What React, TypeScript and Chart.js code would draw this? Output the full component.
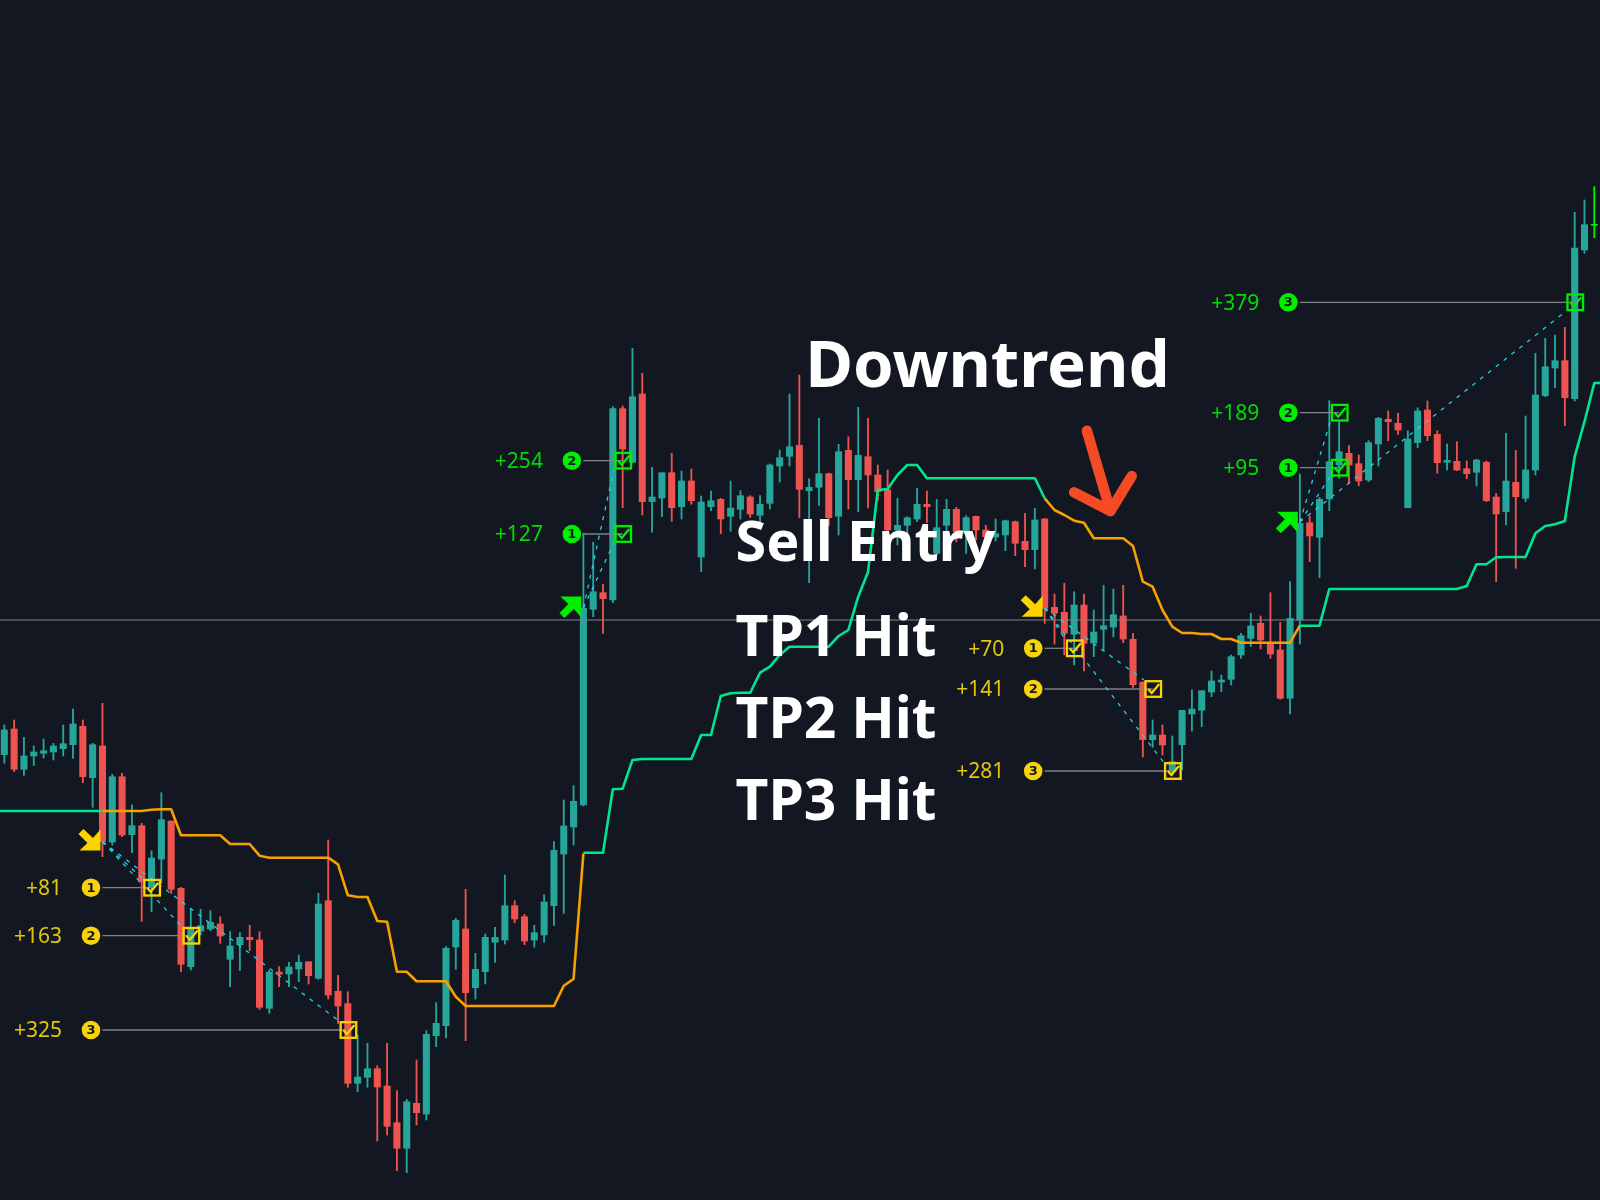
import { useEffect, useRef } from "react";
import { Chart, registerables } from "chart.js";

Chart.register(...registerables);

// price candles
const opens = [445.3,471,430.7,444,446.7,448,451.3,455.3,473.7,422.3,454,358,423.3,365.3,374.3,313,341,379,311.7,233.3,269,271,276,240.7,255.3,262.7,260,191.7,228,226,231,238.3,221.7,299.3,208.7,196.3,116.7,122.7,131.3,114,77.3,51.7,96.7,86,164.3,174.3,253,271,212.3,228.3,257.7,260,294.3,283.3,260,265,294.3,346,373,395,590.7,607.3,600,791.3,737.7,806,698.3,702,727.3,693.3,719,643,693.3,700.7,683.7,690.7,703,684.7,696.7,734,743.7,754.7,709.3,712.7,726.3,683.7,749.7,720.3,743.3,725,710,670,674.7,681,695.7,646.7,674.7,690.7,666.7,683.7,670,663,665,678.3,658.7,650.3,681,592.7,587.7,565.7,595,557,570.7,573,584,560.7,517.7,460.3,465,429,455.3,486,489.7,508,518,520.7,545,561.7,576.7,557,550,501.7,580,677.3,662.7,701,735,746.7,736.3,720,756,780.7,776.7,692.3,757.3,790,765.7,737.7,738.7,731.3,727.7,737.7,703,688.3,717.7,701.7,730,804.3,832,839.3,801.3,950,974.7];
const closes = [470,430.7,444,448,449.3,454,456.3,476,423.3,455.3,358.3,423.3,365,374.3,318,342,380.3,310.7,235.7,271.7,274.3,277.7,264,254,262.7,260.3,192.7,228,225.7,233,237.7,224.3,296,205,194,116.7,123,131.3,113,73.7,51.7,98.3,87.3,165.7,176.7,251.7,279.7,207.3,230.7,262.7,262.7,294.3,281,259,267.3,298,349.7,374,398.7,591.7,608.3,601.3,791.3,751,803.3,698.3,703,727.3,692.3,719,699.3,698,699.3,681,692,704.3,686,695.7,735,742.3,753.3,710.7,712.7,726.3,682.3,748.3,720.3,744.7,725,708.3,670,674.7,682.3,695.7,693.3,672.3,690.7,668.3,682.3,670,663.3,666.3,679.3,656.7,650.3,680,591.7,586.7,567,595,556.7,568,574.3,585.3,561,515.3,460.3,465,455,438.3,489.7,491,509.3,519,520,543.3,564.3,574,560,546,501.7,581.7,676.7,664,700.7,738.3,748.3,735,719,757.3,781.7,778.3,770,761,789,764.3,737.3,739.7,730,726.3,740,699.3,686,719,703.3,730,805,833.3,839.3,802.3,952,975.3,975.7];
const highs = [475,480,462.7,454,461,456.7,475,491,480,456.7,496.7,425.7,426.7,395,376.7,349.3,407.3,379,312.7,291.7,290.7,289.3,283.3,268.3,267.3,274.7,268.3,230,233.3,237.7,245,238.3,306.7,360,224.7,208.3,165,156.7,134.3,156.7,109.3,100.7,140,169.3,197.3,253.3,281.7,310.7,246.7,266,272.7,325,299.3,285.7,274.7,305.3,358.3,400,414.3,667,657.7,615.7,793.3,794,851.7,826.7,732.7,727.3,746.7,729,731,704,709,701.7,719,709.3,704.3,704.3,736,750,806,825,721.3,781.7,727,755.7,763.3,792.7,781.7,735,730,701.7,683.3,711.7,709,700.7,700.7,692.7,684.3,684,674.7,681,680,679,686.7,691.7,681.7,606,616.7,608.3,606,590,614.7,611,614.7,566.7,518.3,480,475,464,489.7,510,509.3,529,525,545,566.7,586.7,584,607.3,577.7,618.3,726,684,702.7,799.3,778.3,754.3,745,759.3,782.7,789,786.7,769.3,792.3,799,769.3,756,758.3,739,740.7,739,706.7,766.7,749.7,784,846.7,861.7,865,872.7,987.7,1000,1013.3];
const lows = [436.7,428.3,424.7,434.3,442,440,444,441.7,417.3,392.7,343.3,355,363.3,347.3,278.7,288.3,316.7,306.7,228.3,230,265,269.3,256.7,213.3,229.3,249.3,190.7,186.7,213.3,213.3,218.3,216,220.7,201,176.7,112.7,108.3,112.7,59,65,29.3,27.3,75,80,153.3,162,230.7,159.3,201,216,237.7,256,277.3,255.3,252.7,257.7,274.7,286.7,355,394,583.3,566.7,597.3,692.3,737,685,667.7,683.3,678.7,681,695.7,628.3,689.3,666.3,668.7,681,682.7,678,691,718,734,682.3,617.3,694.7,674.3,665,691,688.3,692,700,665,655,660,678.3,677.3,645,666.7,658,646.7,660,658.3,659,649.3,644.3,633.3,631,576.7,556,545,535,529,543.3,549.7,563,557.3,512.7,443,452.7,445,425,430,469,473.3,503.3,508.3,515,541.7,553.3,551,541.7,500.7,486,556,638.3,622.3,689.3,721.7,716.7,714.3,718.3,734,759.3,765.7,692.3,752.3,759.3,726.7,730,729.3,721.3,714,698.3,618.3,675,631.7,698.3,725,803.3,812.3,774.3,799,946.7,962.3];

// trailing stop indicator, one value per candle, ten to a row
const upTrail = [
  389,389,389,389,389,389,389,389,389,389,
  389,null,null,null,null,null,null,null,null,null,
  null,null,null,null,null,null,null,null,null,null,
  null,null,null,null,null,null,null,null,null,null,
  null,null,null,null,null,null,null,null,null,null,
  null,null,null,null,null,null,null,null,null,347.3,
  347.3,347.3,410.7,411.3,440,441,441,441,441,441,
  441,465,465,504,506.7,507.3,507.3,527.3,533.3,545,
  553.3,553.3,553.3,553.3,553.3,564,570,603.3,628,710,
  711,725,735,735,721.7,721.7,721.7,721.7,721.7,721.7,
  721.7,721.7,721.7,721.7,721.7,721.7,701.7,null,null,null,
  null,null,null,null,null,null,null,null,null,null,
  null,null,null,null,null,null,null,null,null,null,
  null,null,574.3,574.3,574.3,611,611,611,611,611,
  611,611,611,611,611,611,611,611,611,614,
  635.7,635.7,642.7,643,643,643,666.7,674,675.7,679,
  743.3,778.3,817,
];
const downTrail = [
  null,null,null,null,null,null,null,null,null,null,
  389,389,389,389,389,390.3,390.7,390.7,364.7,364.7,
  364.7,364.7,364.7,356,356,356,344.3,342.3,342.3,342.3,
  342.3,342.3,342.3,342.3,335.7,304.7,303,303,279,278.3,
  228.3,228.3,218.7,218.7,218.7,218.7,203.3,194,194,194,
  194,194,194,194,194,194,194,214.3,221,346.7,
  null,null,null,null,null,null,null,null,null,null,
  null,null,null,null,null,null,null,null,null,null,
  null,null,null,null,null,null,null,null,null,null,
  null,null,null,null,null,null,null,null,null,null,
  null,null,null,null,null,null,701.7,690,685,679.3,
  677.3,661.7,661.7,661.7,661.7,654,618.3,613.3,590,573.3,
  567,567,566,566,561,561,557.3,557.3,557.3,557.3,
  557.3,557.3,574.3,
];

const lastPrice = 580;

// signals and take-profit levels
const entryBars = [10, 59, 106, 132];
const entryPrices = [358.3, 592, 592, 678];
const arrowPrices = [349.5, 603.5, 583.2, 688.3];
const entrySides = ["sell", "buy", "sell", "buy"];

const targetEntries = [0, 0, 0, 1, 1, 2, 2, 2, 3, 3, 3];
const targetBars = [15, 19, 35, 63, 63, 109, 117, 119, 136, 136, 160];
const targetPrices = [312.3, 264.3, 170, 666, 739.3, 551.7, 511, 429, 732.3, 787.3, 897.7];
const targetNumbers = ["1", "2", "3", "1", "2", "1", "2", "3", "1", "2", "3"];
const targetLabels = ["+81", "+163", "+325", "+127", "+254", "+70", "+141", "+281", "+95", "+189", "+379"];

// callouts
const noteTexts = ["Downtrend", "Sell Entry", "TP1 Hit", "TP2 Hit", "TP3 Hit"];
const noteBars = [81.6, 74.5, 74.5, 74.5, 74.5];
const notePrices = [813, 639, 544, 462, 380];
const noteSizes = [65.3, 55.7, 57, 57, 57];

const arrowShaftBars = [110.3, 112.7];
const arrowShaftPrices = [769.3, 689];
const arrowHeadBars = [109, 112.7, 114.87];
const arrowHeadPrices = [707.7, 689, 724];

const UP = "#26a69a";
const DOWN = "#ef5350";
const LIVE = "#00f000";
const YELLOW = "#f7d308";
const LIME = "#00ee00";

const candleColor = (i: number) =>
  i === opens.length - 1 ? LIVE : closes[i] >= opens[i] ? UP : DOWN;

const trailPoints = (values: (number | null)[]) =>
  values.map((v, i) => ({ x: i, y: v }));

const overlay = {
  id: "overlay",
  beforeDraw(chart: any) {
    const { ctx, width, height } = chart;
    ctx.save();
    ctx.fillStyle = "#121722";
    ctx.fillRect(0, 0, width, height);
    ctx.restore();
  },
  afterDatasetsDraw(chart: any) {
    const { ctx, scales } = chart;
    const px = (v: number) => scales.x.getPixelForValue(v);
    const py = (v: number) => scales.y.getPixelForValue(v);
    ctx.save();

    // boxes, badges and pip labels
    targetBars.forEach((bar, i) => {
      const entry = targetEntries[i];
      const isBuy = entrySides[entry] === "buy";
      const color = isBuy ? LIME : YELLOW;
      const x = px(bar) + 0.6;
      const y = py(targetPrices[i]);
      const ex = px(entryBars[entry]);
      ctx.strokeStyle = color;
      ctx.lineWidth = 2.3;
      ctx.strokeRect(x - 7.8, y - 7.8, 15.6, 15.6);
      ctx.beginPath();
      ctx.moveTo(x - 5, y);
      ctx.lineTo(x - 1.5, y + 4);
      ctx.lineTo(x + 6, y - 5);
      ctx.stroke();

      ctx.fillStyle = color;
      ctx.beginPath();
      ctx.arc(ex - 11.5, y, 9.3, 0, Math.PI * 2);
      ctx.fill();
      ctx.fillStyle = "#121722";
      ctx.font = "bold 13px 'DejaVu Sans'";
      ctx.textAlign = "center";
      ctx.textBaseline = "middle";
      ctx.fillText(targetNumbers[i], ex - 11.5, y + 0.5);

      ctx.fillStyle = isBuy ? "#00dc00" : "#e2c60c";
      ctx.font = "21px 'Noto Sans'";
      ctx.textAlign = "right";
      ctx.fillText(targetLabels[i], ex - 40.5, y + 1.5);
    });

    // signal arrows
    entryBars.forEach((bar, i) => {
      const dir = entrySides[i] === "buy" ? 1 : -1;
      const x = px(bar) - 2;
      const y = py(arrowPrices[i]);
      ctx.fillStyle = dir > 0 ? LIME : "#fbd400";
      ctx.beginPath();
      ctx.moveTo(x, y + dir * 21);
      ctx.lineTo(x, y);
      ctx.lineTo(x - 21, y);
      ctx.lineTo(x - 13, y + dir * 7.5);
      ctx.lineTo(x - 22, y + dir * 16.5);
      ctx.lineTo(x - 17, y + dir * 21.5);
      ctx.lineTo(x - 7.5, y + dir * 12.5);
      ctx.closePath();
      ctx.fill();
    });

    // callout text
    ctx.fillStyle = "#ffffff";
    ctx.textAlign = "left";
    ctx.textBaseline = "alphabetic";
    noteTexts.forEach((text, i) => {
      ctx.font = `bold ${noteSizes[i]}px 'Noto Sans'`;
      ctx.fillText(text, px(noteBars[i]), py(notePrices[i]));
    });
    ctx.restore();
  },
};

export default function App() {
  const chartRef = useRef<HTMLCanvasElement | null>(null);

  useEffect(() => {
    if (!chartRef.current) return;
    document.body.style.margin = "0";
    document.body.style.background = "#121722";

    const leaderLines = targetBars.map((bar, i) => ({
      type: "line" as const,
      data: [
        { x: entryBars[targetEntries[i]], y: targetPrices[i] },
        { x: bar, y: targetPrices[i] },
      ],
      borderColor: "#7f8287",
      borderWidth: 1.3,
      pointRadius: 0,
      order: 2,
    }));

    const dashLines = targetBars.map((bar, i) => {
      const entry = targetEntries[i];
      const side = entrySides[entry] === "buy" ? -9 : 9;
      return {
        type: "line" as const,
        data: [
          { x: entryBars[entry], y: entryPrices[entry] },
          { x: bar - 0.9, y: targetPrices[i] + side },
        ],
        borderColor: "#22d3e6",
        borderWidth: 1.3,
        borderDash: [4, 6],
        pointRadius: 0,
        order: 1,
      };
    });

    const chartInstance = new Chart(chartRef.current, {
      type: "bar",
      data: {
        datasets: [
          {
            // wicks
            data: highs.map((h, i) => ({ x: i, y: [lows[i], h] })),
            backgroundColor: highs.map((_, i) => candleColor(i)),
            barThickness: 1.2,
            grouped: false,
            order: 6,
          },
          {
            // bodies
            data: opens.map((o, i) => ({ x: i, y: [o, closes[i]] })),
            backgroundColor: opens.map((_, i) => candleColor(i)),
            barThickness: 6.4,
            grouped: false,
            order: 5,
          },
          {
            type: "line",
            data: [
              { x: -1, y: lastPrice },
              { x: opens.length, y: lastPrice },
            ],
            borderColor: "#7f848a",
            borderWidth: 1,
            pointRadius: 0,
            order: 4,
          },
          {
            // runs off both edges of the picture
            type: "line",
            data: [
              { x: -1, y: upTrail[0] },
              ...trailPoints(upTrail),
              { x: upTrail.length, y: upTrail[upTrail.length - 1] },
            ],
            borderColor: "#00e68f",
            borderWidth: 2.6,
            borderJoinStyle: "round",
            pointRadius: 0,
            order: 3,
          },
          {
            type: "line",
            data: trailPoints(downTrail),
            borderColor: "#f7a100",
            borderWidth: 2.6,
            borderJoinStyle: "round",
            pointRadius: 0,
            order: 3,
          },
          ...leaderLines,
          ...dashLines,
          {
            type: "line",
            data: arrowShaftBars.map((x, i) => ({ x, y: arrowShaftPrices[i] })),
            borderColor: "#f44b25",
            borderWidth: 10.5,
            borderCapStyle: "round",
            pointRadius: 0,
            order: 0,
          },
          {
            type: "line",
            data: arrowHeadBars.map((x, i) => ({ x, y: arrowHeadPrices[i] })),
            borderColor: "#f44b25",
            borderWidth: 10.5,
            borderCapStyle: "round",
            borderJoinStyle: "round",
            pointRadius: 0,
            order: 0,
          },
        ] as any,
      },
      options: {
        responsive: false,
        animation: false,
        devicePixelRatio: 1,
        layout: { padding: 0 },
        plugins: {
          legend: { display: false },
          tooltip: { enabled: false },
        },
        scales: {
          x: { type: "linear", display: false, offset: false, min: -0.44, max: 162.58 },
          y: { type: "linear", display: false, min: 0, max: 1200 },
        },
      },
      plugins: [overlay],
    });

    // Cleanup chart on unmount
    return () => {
      chartInstance.destroy();
    };
  }, []);

  return (
    <div style={{ width: 1600, height: 1200 }}>
      <canvas ref={chartRef} width={1600} height={1200} style={{ display: "block" }} />
    </div>
  );
}
